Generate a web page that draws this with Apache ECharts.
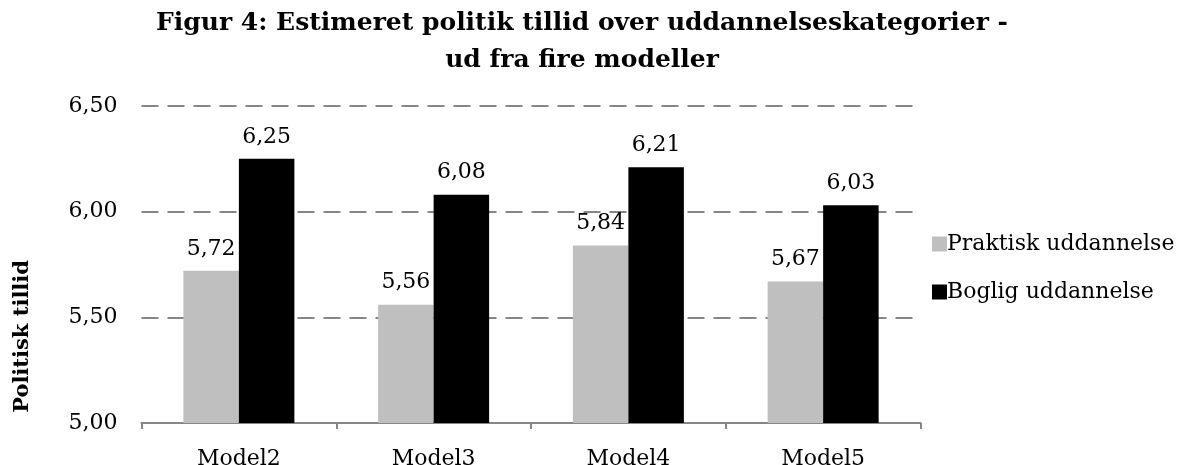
<!DOCTYPE html>
<html>
<head>
<meta charset="utf-8">
<script src="https://cdn.jsdelivr.net/npm/echarts@6/dist/echarts.min.js"></script>
<style>
  html, body { margin: 0; padding: 0; background: #fff; }
  #chart { width: 1182px; height: 465px; }
</style>
</head>
<body>
<div id="chart"></div>
<script>
// data
const categories = ["Model2", "Model3", "Model4", "Model5"];
const praktisk = [5.72, 5.56, 5.84, 5.67];
const boglig = [6.25, 6.08, 6.21, 6.03];
const seriesNames = ["Praktisk uddannelse", "Boglig uddannelse"];

const FONT = "DejaVu Serif";
const comma = v => v.toFixed(2).replace(".", ",");

const chart = echarts.init(document.getElementById("chart"));

const labelStyle = {
  show: true,
  position: "top",
  distance: 11,
  fontFamily: FONT,
  fontSize: 22,
  color: "#000",
  formatter: p => comma(p.value)
};

chart.setOption({
  animation: false,
  title: {
    text: "Figur 4: Estimeret politik tillid over uddannelseskategorier -\nud fra fire modeller",
    left: 577,
    top: 0,
    textAlign: "center",
    textStyle: { fontFamily: FONT, fontWeight: "bold", fontSize: 25, lineHeight: 37, color: "#000" }
  },
  legend: {
    orient: "vertical",
    left: 927,
    top: 228,
    itemWidth: 15,
    itemHeight: 15,
    itemGap: 26,
    icon: "rect",
    textStyle: { fontFamily: FONT, fontSize: 22, color: "#000", padding: [0, 0, 0, -5] },
    data: seriesNames
  },
  grid: { left: 141.5, right: 261.5, top: 106, bottom: 42, containLabel: false, outerBoundsMode: "none" },
  xAxis: {
    type: "category",
    data: categories,
    axisLine: { lineStyle: { color: "#868686", width: 2 } },
    axisTick: { show: true, length: 6, lineStyle: { color: "#868686", width: 2 } },
    axisLabel: { fontFamily: FONT, fontSize: 22, color: "#000", margin: 25 }
  },
  yAxis: {
    type: "value",
    min: 5,
    max: 6.5,
    interval: 0.5,
    axisLine: { show: false },
    axisTick: { show: false },
    axisLabel: { fontFamily: FONT, fontSize: 22, color: "#000", margin: 24, formatter: v => comma(v) },
    splitLine: { lineStyle: { color: "#868686", width: 2, type: [17, 9] } }
  },
  graphic: [{
    type: "text",
    left: 12,
    top: 260,
    rotation: Math.PI / 2,
    style: {
      text: "Politisk tillid",
      fontFamily: FONT,
      fontWeight: "bold",
      fontSize: 21,
      fill: "#000"
    }
  }],
  series: [
    {
      name: seriesNames[0],
      type: "bar",
      data: praktisk,
      barGap: "0%",
      barCategoryGap: "43%",
      itemStyle: { color: "#bfbfbf" },
      label: labelStyle
    },
    {
      name: seriesNames[1],
      type: "bar",
      data: boglig,
      barGap: "0%",
      barCategoryGap: "43%",
      itemStyle: { color: "#000000" },
      label: labelStyle
    }
  ]
});
</script>
</body>
</html>
